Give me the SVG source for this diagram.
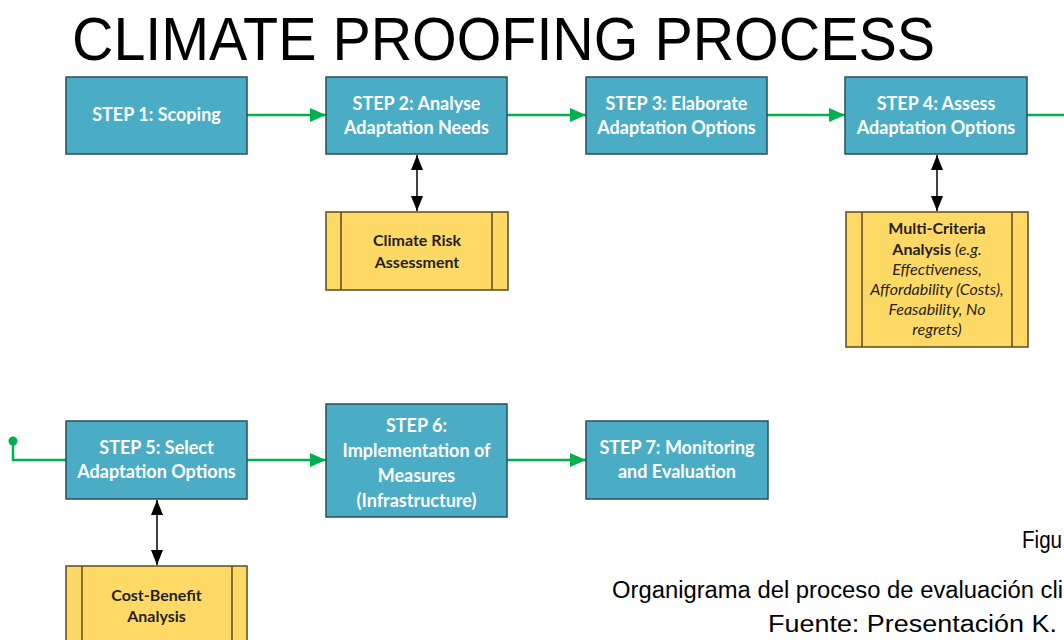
<svg xmlns="http://www.w3.org/2000/svg" width="1064" height="640" viewBox="0 0 1064 640">
  <defs>
    <marker id="greenHead" viewBox="0 0 16 14" refX="16" refY="7" markerWidth="16" markerHeight="14" markerUnits="userSpaceOnUse" orient="auto">
      <path d="M0,0 L16,7 L0,14 Z" fill="#00B050"/>
    </marker>
    <marker id="blackHead" viewBox="0 0 15 12" refX="15" refY="6" markerWidth="15" markerHeight="12" markerUnits="userSpaceOnUse" orient="auto-start-reverse">
      <path d="M0,0 L15,6 L0,12 Z" fill="#000"/>
    </marker>
  </defs>
  <style>
    .step rect { fill: #4BACC6; stroke: #2A4E5A; stroke-width: 1.5; }
    .step text { font-family: "Lato", "Liberation Sans", sans-serif; font-weight: bold; font-size: 18px; fill: #FFFFFF; text-anchor: middle; }
    .tool rect { fill: #FFD966; stroke: #5A4A22; stroke-width: 1.5; }
    .tool line { stroke: #5A4A22; stroke-width: 1.5; }
    .tool text { font-family: "Lato", "Liberation Sans", sans-serif; font-size: 16px; fill: #1F1F1F; text-anchor: middle; }
    .tool .b { font-weight: bold; }
    .tool .i { font-style: italic; }
    .flow { fill: none; stroke: #00B050; stroke-width: 2.5; }
    .link { fill: none; stroke: #000; stroke-width: 1.5; }
    .caption { font-family: "Liberation Sans", Arial, sans-serif; font-size: 23px; fill: #000; }
  </style>
  <rect width="1064" height="640" fill="#FFFFFF"/>

  <!-- Title -->
  <text x="72" y="60" font-family="Liberation Sans, sans-serif" font-size="62" fill="#000" textLength="863" lengthAdjust="spacingAndGlyphs">CLIMATE PROOFING PROCESS</text>

  <!-- Connectors -->
  <g id="connectors">
    <line class="flow" x1="247" y1="115" x2="326" y2="115" marker-end="url(#greenHead)"/>
    <line class="flow" x1="507" y1="115" x2="586" y2="115" marker-end="url(#greenHead)"/>
    <line class="flow" x1="767" y1="115" x2="845" y2="115" marker-end="url(#greenHead)"/>
    <line class="flow" x1="1027" y1="115" x2="1064" y2="115"/>
    <circle cx="13" cy="441" r="4.5" fill="#00B050"/>
    <path class="flow" d="M13,441 V460 H66"/>
    <line class="flow" x1="247" y1="460" x2="326" y2="460" marker-end="url(#greenHead)"/>
    <line class="flow" x1="507" y1="460" x2="586" y2="460" marker-end="url(#greenHead)"/>
    <line class="link" x1="417" y1="155" x2="417" y2="211" marker-start="url(#blackHead)" marker-end="url(#blackHead)"/>
    <line class="link" x1="937" y1="155" x2="937" y2="211" marker-start="url(#blackHead)" marker-end="url(#blackHead)"/>
    <line class="link" x1="157" y1="500" x2="157" y2="565" marker-start="url(#blackHead)" marker-end="url(#blackHead)"/>
  </g>

  <!-- Steps -->
  <g id="step1" class="step">
    <rect x="66" y="77" width="181" height="77"/>
    <text x="156.5" y="121">STEP 1: Scoping</text>
  </g>
  <g id="step2" class="step">
    <rect x="326" y="77" width="181" height="77"/>
    <text x="416.5" y="110">STEP 2: Analyse</text>
    <text x="416.5" y="134">Adaptation Needs</text>
  </g>
  <g id="step3" class="step">
    <rect x="586" y="77" width="181" height="77"/>
    <text x="676.5" y="110">STEP 3: Elaborate</text>
    <text x="676.5" y="134">Adaptation Options</text>
  </g>
  <g id="step4" class="step">
    <rect x="845" y="77" width="182" height="77"/>
    <text x="936" y="110">STEP 4: Assess</text>
    <text x="936" y="134">Adaptation Options</text>
  </g>
  <g id="step5" class="step">
    <rect x="66" y="421" width="181" height="78"/>
    <text x="156.5" y="454">STEP 5: Select</text>
    <text x="156.5" y="478">Adaptation Options</text>
  </g>
  <g id="step6" class="step">
    <rect x="326" y="404" width="181" height="113"/>
    <text x="416.5" y="432">STEP 6:</text>
    <text x="416.5" y="457">Implementation of</text>
    <text x="416.5" y="482">Measures</text>
    <text x="416.5" y="507">(Infrastructure)</text>
  </g>
  <g id="step7" class="step">
    <rect x="586" y="421" width="182" height="78"/>
    <text x="677" y="454">STEP 7: Monitoring</text>
    <text x="677" y="478">and Evaluation</text>
  </g>

  <!-- Supporting analyses -->
  <g id="climate-risk" class="tool">
    <rect x="326" y="212" width="182" height="78"/>
    <line x1="341" y1="212" x2="341" y2="290"/>
    <line x1="492" y1="212" x2="492" y2="290"/>
    <text class="b" x="417" y="246">Climate Risk</text>
    <text class="b" x="417" y="268">Assessment</text>
  </g>
  <g id="multi-criteria" class="tool">
    <rect x="846" y="212" width="182" height="135"/>
    <line x1="862" y1="212" x2="862" y2="347"/>
    <line x1="1012" y1="212" x2="1012" y2="347"/>
    <text class="b" x="937" y="234">Multi-Criteria</text>
    <text x="937" y="255"><tspan class="b">Analysis</tspan> <tspan class="i">(e.g.</tspan></text>
    <text class="i" x="937" y="275">Effectiveness,</text>
    <text class="i" x="937" y="295">Affordability (Costs),</text>
    <text class="i" x="937" y="315">Feasability, No</text>
    <text class="i" x="937" y="335">regrets)</text>
  </g>
  <g id="cost-benefit" class="tool">
    <rect x="66" y="566" width="181" height="90"/>
    <line x1="82" y1="566" x2="82" y2="656"/>
    <line x1="232" y1="566" x2="232" y2="656"/>
    <text class="b" x="156.5" y="601">Cost-Benefit</text>
    <text class="b" x="156.5" y="622">Analysis</text>
  </g>

  <!-- Caption -->
  <g id="caption">
    <text class="caption" x="1022" y="548" textLength="40" lengthAdjust="spacingAndGlyphs">Figu</text>
    <text class="caption" x="612" y="598" textLength="451" lengthAdjust="spacingAndGlyphs">Organigrama del proceso de evaluación cli</text>
    <text class="caption" x="768" y="632" textLength="289" lengthAdjust="spacingAndGlyphs">Fuente: Presentación K.</text>
  </g>
</svg>
